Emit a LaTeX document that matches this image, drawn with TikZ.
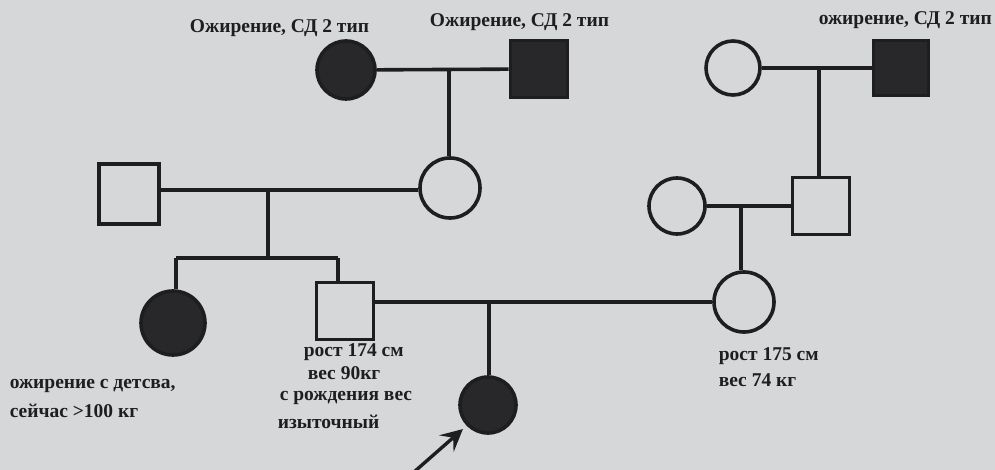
\documentclass[tikz,border=0pt]{standalone}
\usepackage{fontspec}
\setmainfont{Liberation Serif}
\usetikzlibrary{arrows.meta}
\definecolor{bg}{RGB}{214,215,217}
\definecolor{ink}{RGB}{30,30,32}
\definecolor{aff}{RGB}{40,40,42}
\begin{document}
\begin{tikzpicture}[x=1pt,y=-1pt,
  line width=3.6pt, draw=ink,
  fem/.style={circle,draw=ink,line width=3.6pt,inner sep=0pt,minimum size=#1},
  mal/.style={rectangle,draw=ink,line width=3.6pt,inner sep=0pt,minimum size=#1},
  affected/.style={fill=aff},
  lbl/.style={font=\fontsize{19.5}{22}\selectfont\bfseries,text=ink,inner sep=0pt,anchor=west}]
\useasboundingbox (0,0) rectangle (995,470);
\fill[bg] (0,0) rectangle (995,470);
% generation I
\node[fem=58pt,affected] (gm) at (346,70) {};
\node[mal=57pt,affected] (gf) at (539,69) {};
\node[fem=54pt] (mgm) at (733,68) {};
\node[mal=55pt,affected] (mgf) at (901,68) {};
% generation II
\node[mal=60pt] (pf) at (129,194) {};
\node[fem=60pt] (pm) at (450,188) {};
\node[fem=56pt] (mm) at (677,206) {};
\node[mal=57pt] (mf) at (821,206) {};
% generation III
\node[fem=64pt,affected] (aunt) at (173,323) {};
\node[mal=57pt] (fa) at (345,311) {};
\node[fem=60pt] (mo) at (744,302) {};
% proband
\node[fem=56pt,affected] (pb) at (488,405) {};
% coordinates
\coordinate (m1) at (449,70);
\coordinate (m2) at (268,190);
\coordinate (sb) at (268,258);
\coordinate (sl) at (176,258);
\coordinate (sr) at (338,258);
\coordinate (m3) at (489,302);
\coordinate (m4) at (819,68);
\coordinate (m5) at (741,206);
\coordinate (arr) at (414,472);
% connectors
\draw (gm) -- (gf);
\draw (m1) -- (m1 |- pm.north);
\draw (mgm) -- (mgf);
\draw (m4) -- (m4 |- mf.north);
\draw (pf.east |- m2) -- (pm.west |- m2);
\draw (m2) -- (sb);
\draw (sl) -- (sr);
\draw (sl) -- (sl |- aunt.north);
\draw (sr) -- (sr |- fa.north);
\draw (mm) -- (mf);
\draw (m5) -- (m5 |- mo.north);
\draw (fa.east |- mo.west) -- (mo.west);
\draw (m3) -- (m3 |- pb.north);
\draw[line width=3.4pt,-{Stealth[length=22pt,width=22pt,inset=9pt]}] (arr) -- ([shift={(-4pt,-3pt)}]pb.south west);
% labels
\node[lbl] (t1) at (188,28) {Ожирение, СД 2 тип};
\node[lbl] (t2) at (428,22) {Ожирение, СД 2 тип};
\node[lbl] (t3) at (817,20) {ожирение, СД 2 тип};
\node[lbl] (t4) at (8,386) {ожирение с детсва,};
\node[lbl] (t5) at (8,411) {сейчас >100 кг};
\node[lbl] (t6) at (302,352) {рост 174 см};
\node[lbl] (t7) at (306,373) {вес 90кг};
\node[lbl] (t8) at (278,398) {с рождения вес};
\node[lbl] (t9) at (276,422) {изыточный};
\node[lbl] (t10) at (717,356) {рост 175 см};
\node[lbl] (t11) at (717,380) {вес 74 кг};
\end{tikzpicture}
\end{document}
